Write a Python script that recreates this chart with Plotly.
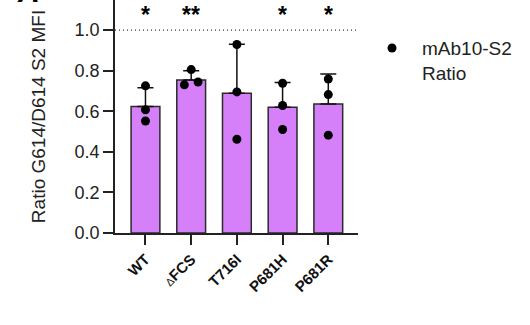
import plotly.graph_objects as go

categories = ["WT", "ΔFCS", "T716I", "P681H", "P681R"]
tick_labels = ["WT", "<span style='font-size:11px;font-weight:normal'>Δ</span>FCS", "T716I", "P681H", "P681R"]
bar_means = [0.623, 0.754, 0.689, 0.620, 0.635]
err_upper = [0.093, 0.046, 0.241, 0.121, 0.149]
points = [
    [0.725, 0.607, 0.552],
    [0.805, 0.730, 0.744],
    [0.929, 0.695, 0.462],
    [0.738, 0.628, 0.510],
    [0.759, 0.682, 0.482],
]
point_offsets = [
    [0, 0, 0],
    [0, -0.15, 0.15],
    [0, 0, 0],
    [0, 0, 0],
    [0, 0, 0],
]
stars = ["*", "**", "", "*", "*"]
legend_label = "mAb10-S2<br>Ratio"

FONT = "Arial, Liberation Sans, sans-serif"
idx = list(range(len(categories)))

fig = go.Figure()
fig.add_trace(go.Bar(
    x=idx, y=bar_means, width=0.63,
    marker=dict(color="#D580F9", line=dict(color="#2a2a2a", width=1.5)),
    error_y=dict(type="data", array=err_upper, arrayminus=[0]*5, symmetric=False,
                 color="#111", thickness=1.5, width=8),
    showlegend=False,
))
px_, py_ = [], []
for i, (vals, offs) in enumerate(zip(points, point_offsets)):
    for v, o in zip(vals, offs):
        px_.append(i + o)
        py_.append(v)
fig.add_trace(go.Scatter(
    x=px_, y=py_, mode="markers",
    marker=dict(color="black", size=9),
    showlegend=False,
))

fig.add_shape(type="line", xref="paper", yref="y", x0=0, x1=1, y0=1.0, y1=1.0,
              line=dict(color="#333", width=1.2, dash="1px,3px"))

for i, s in enumerate(stars):
    if s:
        fig.add_annotation(x=i, y=1.0, text=f"<b>{s}</b>", showarrow=False,
                           font=dict(size=23, color="black", family=FONT),
                           xref="x", yref="paper", yanchor="top")

# manual legend
fig.add_shape(type="circle", xref="paper", yref="paper", xsizemode="pixel", ysizemode="pixel",
              xanchor=1.140, yanchor=0.794, x0=-4.5, x1=4.5, y0=-4.5, y1=4.5,
              fillcolor="black", line=dict(color="black", width=0))
fig.add_annotation(x=1.255, y=0.739, xref="paper", yref="paper", text=legend_label,
                   showarrow=False, xanchor="left", yanchor="middle", align="left",
                   font=dict(size=19, family=FONT, color="#222"))

# panel letter (cut off at top in reference)
fig.add_annotation(x=-0.354, y=0.957, xref="paper", yref="paper", text="<b><i>A</i></b>",
                   showarrow=False, xanchor="center", yanchor="bottom",
                   font=dict(size=30, family=FONT, color="black"))

fig.update_layout(
    width=530, height=325,
    margin=dict(l=115, r=172, t=0, b=92, autoexpand=False),
    plot_bgcolor="white", paper_bgcolor="white",
    font=dict(family=FONT, color="#222", size=18),
    showlegend=False,
)
fig.update_xaxes(
    range=[-0.667, 4.65], tickvals=idx, ticktext=[f"<b>{t}</b>" for t in tick_labels],
    tickangle=-45, ticks="outside", ticklen=10, tickwidth=1.5, tickcolor="#222",
    showline=True, linecolor="#222", linewidth=1.5, showgrid=False, zeroline=False,
    tickfont=dict(size=15, family=FONT, color="#111"),
)
fig.update_yaxes(
    range=[0, 1.148], tickvals=[0, 0.2, 0.4, 0.6, 0.8, 1.0],
    ticktext=["0.0", "0.2", "0.4", "0.6", "0.8", "1.0"],
    ticks="outside", ticklen=10, tickwidth=1.5, tickcolor="#222",
    showline=True, linecolor="#222", linewidth=1.5, showgrid=False, zeroline=False,
    tickfont=dict(size=18, family=FONT, color="#222"),
    title=dict(text="Ratio G614/D614 S2 MFI", font=dict(size=19, family=FONT, color="#222"), standoff=24),
)
fig.write_html("out.html", config={"displayModeBar": False},
               post_script="document.body.style.margin='0px';")
